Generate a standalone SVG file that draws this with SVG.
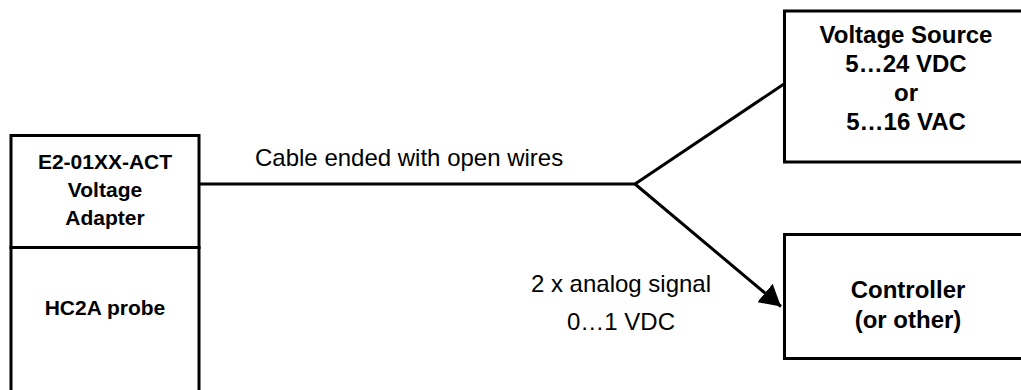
<svg xmlns="http://www.w3.org/2000/svg" width="1021" height="390" viewBox="0 0 1021 390">
<style>
.box{fill:#fff;stroke:#000;stroke-width:3}
.line{fill:none;stroke:#000;stroke-width:3}
.b{font-family:"Liberation Sans",Arial,sans-serif;font-weight:bold;font-size:24px;text-anchor:middle;fill:#000}
.bl{font-family:"Liberation Sans",Arial,sans-serif;font-weight:bold;font-size:21px;text-anchor:middle;fill:#000}
.r{font-family:"Liberation Sans",Arial,sans-serif;font-size:24px;fill:#000}
</style>
<defs>
<marker id="arr" markerWidth="8" markerHeight="8" refX="7" refY="4" orient="auto" markerUnits="strokeWidth">
<path d="M0,0 L7,4 L0,8 z" fill="#000"/>
</marker>
</defs>
<rect width="1021" height="390" fill="#fff"/>
<g id="connectors">
<line class="line" x1="199" y1="184" x2="635" y2="184"/>
<line class="line" x1="635" y1="184" x2="784" y2="84"/>
<line class="line" x1="635" y1="184" x2="781" y2="306.5" marker-end="url(#arr)"/>
<text class="r" x="255" y="166">Cable ended with open wires</text>
<text class="r" x="621" y="292" text-anchor="middle">2 x analog signal</text>
<text class="r" x="621" y="330" text-anchor="middle">0…1 VDC</text>
</g>
<g id="adapter">
<rect class="box" x="11" y="135.5" width="188" height="112"/>
<text class="bl" x="105" y="169">E2-01XX-ACT</text>
<text class="bl" x="105" y="197">Voltage</text>
<text class="bl" x="105" y="225">Adapter</text>
</g>
<g id="probe">
<rect class="box" x="11" y="247.5" width="188" height="160"/>
<text class="bl" x="105" y="315">HC2A probe</text>
</g>
<g id="voltage-source">
<rect class="box" x="784.5" y="11" width="260" height="151"/>
<text class="b" x="906" y="43">Voltage Source</text>
<text class="b" x="906" y="72">5…24 VDC</text>
<text class="b" x="906" y="101">or</text>
<text class="b" x="906" y="130">5…16 VAC</text>
</g>
<g id="controller">
<rect class="box" x="784.5" y="234.5" width="260" height="124"/>
<text class="b" x="908" y="298">Controller</text>
<text class="b" x="908" y="328">(or other)</text>
</g>
</svg>
